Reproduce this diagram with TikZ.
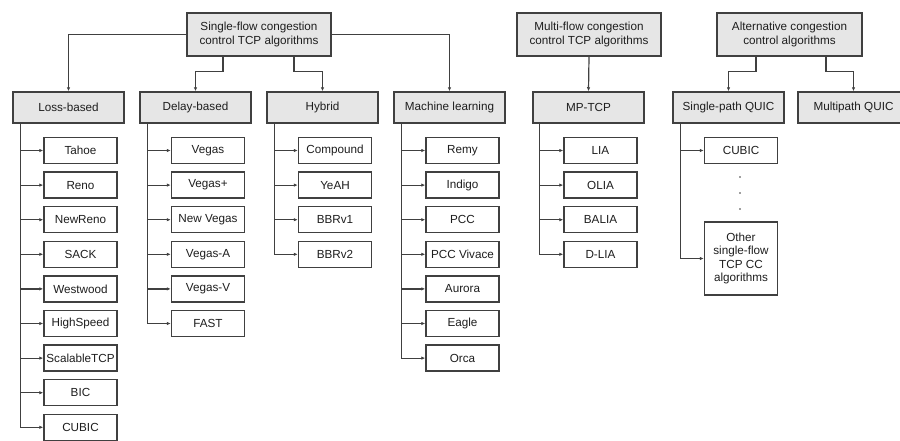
\documentclass[tikz,border=0pt]{standalone}
\usepackage{fontspec}
\setmainfont{Liberation Sans}
\usetikzlibrary{arrows.meta}
\definecolor{ln}{HTML}{404040}
\definecolor{fl}{HTML}{E6E6E6}
\definecolor{tx}{HTML}{1E1E1E}
\begin{document}
\begin{tikzpicture}[x=1pt,y=-1pt,
  base/.style={draw=ln,line width=1.5pt,text=tx,font=\fontsize{11.7}{13.6}\selectfont,align=center,inner sep=1pt},
  topbox/.style={base,fill=fl,minimum width=144pt,minimum height=43pt},
  catbox/.style={base,fill=fl,minimum width=111pt,minimum height=31pt},
  leafbox/.style={base,fill=white,minimum width=73pt,minimum height=26pt},
  arr/.style={draw=ln,line width=1.2pt,-{Latex[length=4pt,width=3.5pt]}}]
\clip (0,0) rectangle (900,440);
\fill[white] (0,0) rectangle (900,440);
% top level
\node[topbox] (sf) at (259,34.5) {Single-flow congestion\\control TCP algorithms};
\node[topbox] (mf) at (589,34.5) {Multi-flow congestion\\control TCP algorithms};
\node[topbox,minimum width=145pt] (alt) at (789.5,34.5) {Alternative congestion\\control algorithms};
% categories
\node[catbox] (loss) at (68.5,107.5) {Loss-based};
\node[catbox] (delay) at (195.5,107.5) {Delay-based};
\node[catbox] (hyb) at (322.5,107.5) {Hybrid};
\node[catbox] (ml) at (449.5,107.5) {Machine learning};
\node[catbox] (mp) at (588.5,107.5) {MP-TCP};
\node[catbox] (spq) at (728.5,107.5) {Single-path QUIC};
\node[catbox] (mpq) at (853.5,107.5) {Multipath QUIC};
% top connectors
\draw[arr] (sf.west) -| (loss.north);
\draw[arr] (sf.east) -| (ml.north);
\draw[arr] ([xshift=-36pt]sf.south) -- ++(0,15) -| (delay.north);
\draw[arr] ([xshift=35pt]sf.south) -- ++(0,15) -| (hyb.north);
\draw[arr] (mf.south) -- (mp.north);
\draw[arr] ([xshift=-33.5pt]alt.south) -- ++(0,15) -| (spq.north);
\draw[arr] ([xshift=36.5pt]alt.south) -- ++(0,15) -| (mpq.north);
% leaves
\foreach \name/\lab [count=\i from 0] in {l1/Tahoe,l2/Reno,l3/NewReno,l4/SACK,l5/Westwood,l6/HighSpeed,l7/ScalableTCP,l8/BIC,l9/CUBIC}{
  \node[leafbox] (\name) at (80.5,150.5+34.6*\i) {\lab};
  \draw[arr] ([xshift=8pt]loss.south west) |- (\name.west);
}
\foreach \name/\lab [count=\i from 0] in {d1/Vegas,d2/Vegas+,d3/New Vegas,d4/Vegas-A,d5/Vegas-V,d6/FAST}{
  \node[leafbox] (\name) at (208,150.5+34.6*\i) {\lab};
  \draw[arr] ([xshift=8pt]delay.south west) |- (\name.west);
}
\foreach \name/\lab [count=\i from 0] in {h1/Compound,h2/YeAH,h3/BBRv1,h4/BBRv2}{
  \node[leafbox] (\name) at (335,150.5+34.6*\i) {\lab};
  \draw[arr] ([xshift=8pt]hyb.south west) |- (\name.west);
}
\foreach \name/\lab [count=\i from 0] in {m1/Remy,m2/Indigo,m3/PCC,m4/PCC Vivace,m5/Aurora,m6/Eagle,m7/Orca}{
  \node[leafbox] (\name) at (462.5,150.5+34.6*\i) {\lab};
  \draw[arr] ([xshift=8pt]ml.south west) |- (\name.west);
}
\foreach \name/\lab [count=\i from 0] in {p1/LIA,p2/OLIA,p3/BALIA,p4/D-LIA}{
  \node[leafbox] (\name) at (600.5,150.5+34.6*\i) {\lab};
  \draw[arr] ([xshift=7pt]mp.south west) |- (\name.west);
}
\node[leafbox] (q1) at (741,150.5) {CUBIC};
\node[leafbox,minimum height=73pt] (q2) at (741,258.5) {Other\\single-flow\\TCP CC\\algorithms};
\draw[arr] ([xshift=8pt]spq.south west) |- (q1.west);
\draw[arr] ([xshift=8pt]spq.south west) |- (q2.west);
\foreach \yy in {177,193,209} \fill[ln] (740,\yy) circle (0.9pt);
\end{tikzpicture}
\end{document}
